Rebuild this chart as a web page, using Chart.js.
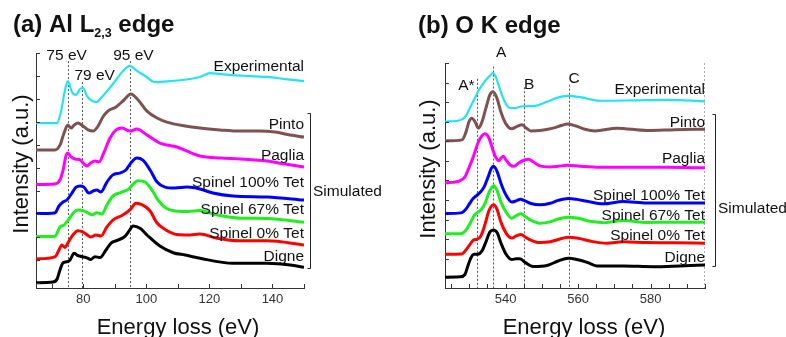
<!DOCTYPE html>
<html lang="en">

<head>
    <meta charset="UTF-8">
    <title>Al L2,3 and O K edge spectra</title>
    <script src="https://cdn.jsdelivr.net/npm/chart.js"></script>
    <style>
        body { margin: 0; background: #fff; }
        #wrap { position: relative; width: 786px; height: 337px; }
        canvas { position: absolute; top: 0; }
    </style>
</head>

<body>
    <div id="wrap">
        <canvas id="chartAl" width="393" height="337" style="left:0"></canvas>
        <canvas id="chartO" width="393" height="337" style="left:393px"></canvas>
    </div>

    <script>
        // series, top to bottom (stacked with an offset)
        var seriesNames = ['Experimental', 'Pinto', 'Paglia', 'Spinel 100% Tet', 'Spinel 67% Tet', 'Spinel 0% Tet', 'Digne'];
        var seriesColors = ['#22e4f0', '#7e5252', '#ff00ff', '#0000ff', '#1ef01e', '#ff0000', '#000000'];
        var seriesWidths = [2.2, 3, 3, 3, 3, 3, 3];

        // (a) Al L2,3 edge: [energy loss (eV), intensity (offset, a.u.)]
        var alExperimental = [[65, 6.96], [71.7, 6.96], [72.9, 7.44], [74.2, 8.39], [75.1, 8.78], [76.4, 8.31], [77.7, 8.18], [79.0, 8.44], [79.9, 8.48], [81.2, 8.13], [82.8, 7.92], [84.3, 7.87], [85.3, 8.0], [87.8, 8.39], [90.4, 8.83], [92.9, 9.26], [94.8, 9.44], [96.7, 9.26], [99.6, 9.0], [102.7, 8.74], [107.5, 8.78], [113.8, 8.87], [117, 8.96], [120.2, 9.13], [123.4, 9.09], [127.5, 9.04], [132.9, 9.0], [138.3, 8.96], [144, 8.87], [150, 8.78]];
        var alPinto = [[65, 5.79], [71, 5.79], [72.6, 6.0], [73.9, 6.53], [75.1, 6.87], [76.1, 6.74], [77.1, 6.87], [78.3, 6.96], [79.9, 6.83], [81.5, 6.66], [83.1, 6.61], [84.7, 6.83], [86.2, 7.22], [87.8, 7.48], [90.4, 7.66], [92.9, 7.96], [95.1, 8.22], [97.4, 7.96], [100.2, 7.48], [103.4, 7.18], [106.5, 7.0], [112.3, 6.83], [117, 6.74], [123.4, 6.66], [129.7, 6.61], [136, 6.61], [140.8, 6.57], [145.6, 6.44], [150, 6.35]];
        var alPaglia = [[65, 4.29], [71, 4.31], [72.6, 4.49], [73.6, 4.92], [74.5, 5.53], [75.1, 5.66], [76.1, 5.49], [77.4, 5.40], [79.0, 5.36], [80.2, 5.18], [81.2, 5.10], [82.4, 5.23], [83.7, 5.31], [85, 5.27], [86.6, 5.70], [88.5, 6.31], [90.4, 6.66], [92.3, 6.74], [94.8, 6.61], [97, 6.70], [100.2, 6.44], [104.3, 6.09], [109.7, 5.92], [112.9, 5.74], [117, 5.53], [123.4, 5.44], [129.7, 5.40], [138.3, 5.31], [144, 5.18], [150, 5.05]];
        var alSpinel100 = [[65, 3.03], [71, 3.06], [72.3, 3.36], [73.6, 3.53], [74.8, 3.62], [76.4, 3.92], [77.7, 4.18], [79, 4.23], [80.2, 4.18], [81.8, 3.92], [83.1, 4.01], [84.3, 4.05], [85.6, 3.97], [87.5, 4.40], [89.4, 4.71], [91.6, 4.79], [93.5, 4.92], [95.1, 5.23], [97, 5.44], [98.9, 5.35], [101.2, 4.92], [103.4, 4.40], [105.9, 4.18], [109.1, 4.14], [112.9, 4.18], [117, 4.10], [121.1, 3.92], [127.5, 3.79], [138.3, 3.75], [150, 3.62]];
        var alSpinel67 = [[65, 2.03], [71, 2.04], [72.6, 2.45], [73.9, 2.53], [75.5, 2.80], [77.1, 3.10], [78.3, 3.19], [79.9, 3.16], [81.5, 3.06], [82.8, 2.97], [84.3, 3.07], [85.9, 3.01], [87.5, 3.40], [89.4, 3.79], [92, 3.95], [94.5, 4.10], [95.8, 4.31], [97.4, 4.46], [99.6, 4.40], [101.8, 4.05], [103.7, 3.62], [106.2, 3.27], [109.1, 3.14], [113.2, 3.12], [117, 3.16], [122.4, 2.97], [129.7, 2.83], [138.3, 2.82], [150, 2.65]];
        var alSpinel0 = [[65, 1.06], [71, 1.15], [72.3, 1.45], [73.2, 1.67], [74.2, 1.56], [75.1, 1.75], [76.7, 2.10], [78.3, 2.29], [79.9, 2.23], [81.5, 2.08], [82.4, 2.01], [84, 2.10], [85.6, 2.06], [87.5, 2.45], [89.4, 2.75], [92.3, 2.95], [94.8, 3.19], [96.7, 3.48], [98.9, 3.40], [101.2, 3.14], [103.4, 2.62], [106.2, 2.32], [109.7, 2.12], [113.8, 2.10], [117, 2.14], [122.4, 1.96], [129.7, 1.85], [138.3, 1.85], [150, 1.67]];
        var alDigne = [[65, 0.03], [70.4, 0.06], [71.7, 0.19], [72.6, 0.58], [73.6, 0.90], [74.8, 0.94], [75.8, 1.02], [77.1, 1.31], [78, 1.23], [79.3, 1.17], [80.9, 1.12], [82.4, 1.04], [83.7, 1.16], [85.3, 1.12], [87.2, 1.45], [88.8, 1.75], [91, 1.88], [93.2, 2.04], [94.5, 2.27], [95.8, 2.49], [98, 2.39], [100.2, 2.10], [104.3, 1.62], [108.5, 1.33], [112.3, 1.23], [117, 1.09], [127.5, 0.87], [138.3, 0.87], [145.6, 0.80], [150, 0.70]];

        // (b) O K edge
        var okExperimental = [[523.3, 8.01], [526.9, 8.05], [528.8, 8.23], [530.2, 8.71], [531.3, 9.12], [532.7, 9.63], [534.6, 10.14], [535.7, 10.35], [536.6, 10.50], [537.6, 10.14], [538.7, 9.53], [539.8, 9.02], [541, 8.71], [542.3, 8.69], [544.7, 8.79], [548.1, 8.81], [551.4, 9.02], [554.2, 9.22], [557, 9.32], [560.5, 9.26], [566, 9.07], [575.2, 9.09], [584.5, 9.12], [595, 9.04]];
        var okPinto = [[523.3, 7.02], [528, 7.07], [529.1, 7.48], [529.9, 7.99], [530.7, 8.18], [531.6, 7.99], [532.5, 7.67], [533.5, 7.99], [534.6, 8.71], [535.7, 9.38], [536.5, 9.53], [537.6, 9.22], [538.7, 8.51], [540.1, 7.89], [541.7, 7.64], [543.2, 7.76], [544.5, 7.84], [545.6, 7.69], [547, 7.53], [549.5, 7.55], [553.1, 7.67], [555.6, 7.82], [557, 7.88], [559.2, 7.79], [561.9, 7.61], [564.7, 7.53], [570.7, 7.67], [579, 7.55], [586.7, 7.59], [595, 7.62]];
        var okPaglia = [[523.3, 4.87], [527.4, 4.98], [528.8, 5.18], [529.9, 5.64], [531, 6.15], [532.4, 6.91], [533.5, 7.28], [534.3, 7.38], [535.4, 7.18], [536.5, 6.56], [537.4, 6.15], [538.1, 6.0], [538.8, 6.15], [539.4, 6.23], [540.1, 6.05], [541.2, 5.80], [542.3, 5.72], [543.7, 5.90], [545.1, 6.03], [546.3, 6.08], [547.6, 5.95], [549.5, 5.74], [552.3, 5.69], [554.5, 5.72], [557, 5.77], [560.5, 5.72], [566, 5.67], [575.2, 5.67], [584.5, 5.67], [595, 5.64]];
        var okSpinel100 = [[523.3, 3.31], [527.7, 3.34], [529.1, 3.54], [530.2, 3.85], [531, 4.06], [531.9, 4.21], [533, 4.39], [534.1, 4.67], [535.2, 5.18], [536, 5.59], [536.7, 5.72], [537.7, 5.44], [538.7, 4.87], [540.1, 4.26], [541.7, 3.89], [542.9, 3.95], [544.1, 4.04], [545.4, 3.95], [546.8, 3.83], [549.5, 3.75], [552.3, 3.83], [554.5, 3.98], [557.3, 4.08], [559.7, 4.03], [562.5, 3.93], [566.9, 3.80], [572.4, 3.92], [579, 3.84], [586.7, 3.84], [595, 3.84]];
        var okSpinel67 = [[523.3, 2.27], [528, 2.29], [529.1, 2.47], [530.2, 2.78], [531.3, 3.19], [532.1, 3.34], [533.2, 3.49], [534.3, 3.80], [535.4, 4.36], [536.7, 4.72], [537.7, 4.47], [538.7, 3.90], [540.1, 3.39], [541.7, 3.07], [542.9, 3.19], [544.3, 3.29], [545.4, 3.16], [546.8, 2.98], [549.5, 2.81], [552.3, 2.88], [554.5, 3.03], [557.3, 3.11], [560, 3.06], [563.3, 2.91], [567.4, 2.84], [572.4, 2.95], [579, 2.85], [586.7, 2.86], [595, 2.86]];
        var okSpinel0 = [[523.3, 1.23], [528, 1.24], [529.1, 1.45], [530.2, 1.73], [531.2, 1.96], [532.1, 1.99], [533.2, 2.16], [534.3, 2.73], [535.4, 3.44], [536.7, 3.75], [537.7, 3.49], [538.7, 2.88], [540.1, 2.32], [541.7, 2.05], [542.9, 2.16], [544.3, 2.24], [545.4, 2.11], [546.8, 1.96], [549.5, 1.82], [552.3, 1.86], [554.5, 1.98], [557.3, 2.09], [560, 2.04], [564.1, 1.87], [568, 1.79], [572.4, 1.87], [579, 1.82], [586.7, 1.81], [595, 1.79]];
        var okDigne = [[523.3, 0.05], [527.4, 0.07], [528.8, 0.19], [529.6, 0.63], [530.5, 1.06], [531.3, 1.22], [532.4, 1.23], [533.5, 1.40], [534.6, 1.86], [535.7, 2.37], [536.7, 2.47], [537.7, 2.32], [538.7, 1.81], [540.1, 1.24], [541.7, 0.96], [542.9, 0.99], [544, 1.00], [545.4, 0.81], [547.6, 0.60], [551.4, 0.65], [554.5, 0.88], [557.3, 1.02], [560, 0.94], [562.5, 0.81], [565.2, 0.63], [572.4, 0.63], [580.7, 0.59], [588.1, 0.63], [595, 0.68]];

        // peak markers (dotted lines) and their labels
        var alPeakE = [75.1, 79.5, 94.8];
        var alPeakText = ['75 eV', '79 eV', '95 eV'];
        var okPeakE = [532, 536.6, 545, 557.5];
        var okPeakText = ['A*', 'A', 'B', 'C'];

        // x tick labels
        var alTickLabels = [80, 100, 120, 140];
        var okTickLabels = [540, 560, 580];

        var FONT = "'Liberation Sans', Arial, sans-serif";
        var X_AXIS_H = 30;   // height kept for the x tick labels

        // layout of the two panels (pixels inside each canvas, or data units)
        var panelAl = {
            data: [alExperimental, alPinto, alPaglia, alSpinel100, alSpinel67, alSpinel0, alDigne],
            xMin: 65, xMax: 150, yMin: -0.2, yMax: 10, minorStep: 10,
            ticks: alTickLabels,
            padding: { left: 36, top: 53, right: 89, bottom: 49 - X_AXIS_H },
            title: [['(a) Al L', 24, 0], ['2,3', 12.5, 5], [' edge', 24, 0]], titleX: 13, titleY: 32,
            yTitle: { x: 28, y: 164 }, xTitle: { x: 178, y: 334 },
            labelY: [9.24, 6.70, 5.36, 4.19, 3.01, 1.99, 0.97],
            peaks: alPeakE, peakTop: [9.65, 8.74, 9.65],
            peakText: alPeakText, peakTextX: [74.7, 83.6, 95.9], peakTextY: [9.70, 8.83, 9.70],
            bracket: { dx: 6, top: 7.40, bottom: 0.66, textDx: 9, textY: 3.79 },
            edgeLine: false
        };
        var panelO = {
            data: [okExperimental, okPinto, okPaglia, okSpinel100, okSpinel67, okSpinel0, okDigne],
            xMin: 523.3, xMax: 595, yMin: -0.5, yMax: 11, minorStep: 5,
            ticks: okTickLabels,
            padding: { left: 52, top: 63, right: 81, bottom: 49 - X_AXIS_H },
            title: [['(b) O K edge', 24, 0]], titleX: 25, titleY: 32.5,
            yTitle: { x: 42, y: 169 }, xTitle: { x: 191, y: 334 },
            labelY: [9.43, 7.71, 5.87, 3.98, 2.98, 1.97, 0.85],
            peaks: okPeakE, peakTop: [10.19, 10.82, 9.76, 9.89],
            peakText: okPeakText, peakTextX: [529.2, 538.8, 546.5, 558.9], peakTextY: [9.63, 11.30, 9.67, 9.97],
            bracket: { dx: 10, top: 8.39, bottom: 0.63, textDx: 13, textY: 3.34 },
            edgeLine: true
        };

        // draws ticks, markers and all the text round the plot
        function decorPlugin(p) {
            return {
                id: 'decor',
                beforeDatasetsDraw: function (chart) {
                    var ctx = chart.ctx, xs = chart.scales.x, ys = chart.scales.y, area = chart.chartArea;
                    ctx.save();
                    ctx.strokeStyle = '#555';
                    ctx.lineWidth = 1;
                    ctx.setLineDash([2, 2]);
                    p.peaks.forEach(function (e, i) {
                        var x = Math.round(xs.getPixelForValue(e)) + 0.5;
                        ctx.beginPath();
                        ctx.moveTo(x, ys.getPixelForValue(p.peakTop[i]));
                        ctx.lineTo(x, area.bottom);
                        ctx.stroke();
                    });
                    if (p.edgeLine) {
                        ctx.strokeStyle = '#b0b0b0';
                        ctx.beginPath();
                        ctx.moveTo(area.right - 0.5, area.top);
                        ctx.lineTo(area.right - 0.5, area.bottom);
                        ctx.stroke();
                    }
                    ctx.restore();
                },
                afterDraw: function (chart) {
                    var ctx = chart.ctx, xs = chart.scales.x, ys = chart.scales.y, area = chart.chartArea;
                    ctx.save();

                    // inward ticks
                    ctx.strokeStyle = '#333';
                    ctx.lineWidth = 1;
                    var v, px;
                    for (v = Math.ceil(p.xMin / p.minorStep) * p.minorStep; v <= p.xMax; v += p.minorStep) {
                        px = Math.round(xs.getPixelForValue(v)) + 0.5;
                        ctx.beginPath();
                        ctx.moveTo(px, area.bottom);
                        ctx.lineTo(px, area.bottom - 4);
                        ctx.stroke();
                    }
                    for (v = 0; v <= p.yMax; v++) {
                        px = Math.round(ys.getPixelForValue(v)) + 0.5;
                        ctx.beginPath();
                        ctx.moveTo(area.left, px);
                        ctx.lineTo(area.left + 4, px);
                        ctx.stroke();
                    }

                    ctx.fillStyle = '#111';
                    ctx.textBaseline = 'alphabetic';

                    // peak labels
                    ctx.font = '15.5px ' + FONT;
                    ctx.textAlign = 'center';
                    p.peakText.forEach(function (t, i) {
                        ctx.fillText(t, xs.getPixelForValue(p.peakTextX[i]), ys.getPixelForValue(p.peakTextY[i]));
                    });

                    // series names
                    ctx.textAlign = 'right';
                    seriesNames.forEach(function (n, i) {
                        ctx.fillText(n, area.right, ys.getPixelForValue(p.labelY[i]));
                    });

                    // "Simulated" bracket
                    var bx = area.right + p.bracket.dx + 0.5;
                    var bt = Math.round(ys.getPixelForValue(p.bracket.top)) + 0.5;
                    var bb = Math.round(ys.getPixelForValue(p.bracket.bottom)) + 0.5;
                    ctx.strokeStyle = '#222';
                    ctx.beginPath();
                    ctx.moveTo(bx - 3, bt);
                    ctx.lineTo(bx, bt);
                    ctx.lineTo(bx, bb);
                    ctx.lineTo(bx - 3, bb);
                    ctx.stroke();
                    ctx.textAlign = 'left';
                    ctx.fillText('Simulated', area.right + p.bracket.textDx, ys.getPixelForValue(p.bracket.textY));

                    // panel title (with subscript)
                    var tx = p.titleX;
                    p.title.forEach(function (seg) {
                        ctx.font = 'bold ' + seg[1] + 'px ' + FONT;
                        ctx.fillText(seg[0], tx, p.titleY + seg[2]);
                        tx += ctx.measureText(seg[0]).width;
                    });

                    // axis titles
                    ctx.font = '22px ' + FONT;
                    ctx.textAlign = 'center';
                    ctx.fillText('Energy loss (eV)', p.xTitle.x, p.xTitle.y);
                    ctx.translate(p.yTitle.x, p.yTitle.y);
                    ctx.rotate(-Math.PI / 2);
                    ctx.fillText('Intensity (a.u.)', 0, 0);

                    ctx.restore();
                }
            };
        }

        function makeChart(id, p) {
            var datasets = p.data.map(function (d, i) {
                return {
                    label: seriesNames[i],
                    data: d,
                    borderColor: seriesColors[i],
                    borderWidth: seriesWidths[i],
                    pointRadius: 0,
                    cubicInterpolationMode: 'monotone',
                    borderJoinStyle: 'round',
                    fill: false
                };
            });
            return new Chart(document.getElementById(id).getContext('2d'), {
                type: 'line',
                data: { datasets: datasets },
                options: {
                    responsive: false,
                    animation: false,
                    devicePixelRatio: 1,
                    layout: { padding: p.padding },
                    plugins: { legend: { display: false }, tooltip: { enabled: false } },
                    scales: {
                        x: {
                            type: 'linear',
                            min: p.xMin,
                            max: p.xMax,
                            grid: { display: false, drawTicks: false },
                            border: { display: true, color: '#333', width: 1 },
                            ticks: {
                                stepSize: 20,
                                includeBounds: false,
                                padding: 4,
                                maxRotation: 0,
                                autoSkip: false,
                                color: '#333',
                                font: { family: FONT, size: 13 },
                                callback: function (value) {
                                    return p.ticks.indexOf(value) >= 0 ? String(value) : '';
                                }
                            },
                            afterFit: function (s) { s.height = X_AXIS_H; }
                        },
                        y: {
                            type: 'linear',
                            min: p.yMin,
                            max: p.yMax,
                            grid: { display: false, drawTicks: false },
                            border: { display: true, color: '#333', width: 1 },
                            ticks: { display: false },
                            afterFit: function (s) { s.width = 0; }
                        }
                    }
                },
                plugins: [decorPlugin(p)]
            });
        }

        makeChart('chartAl', panelAl);
        makeChart('chartO', panelO);
    </script>
</body>

</html>
